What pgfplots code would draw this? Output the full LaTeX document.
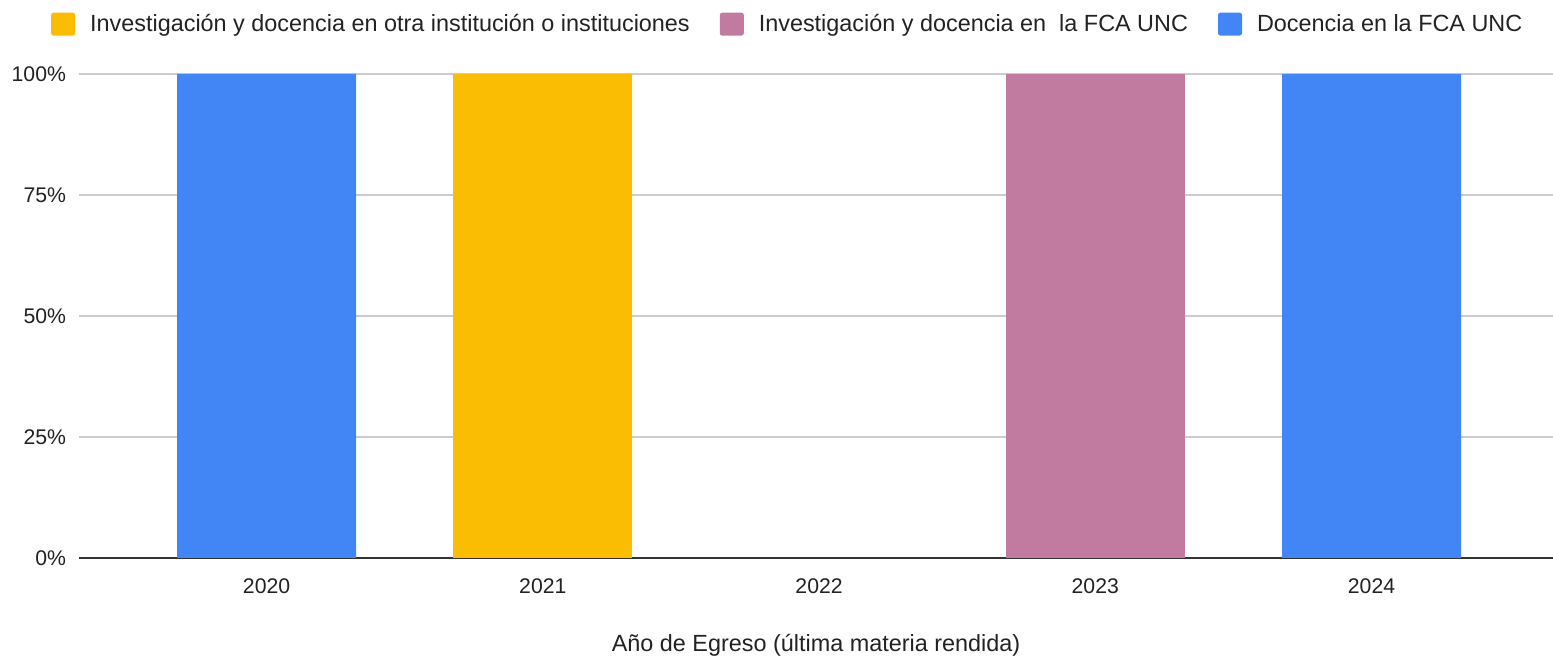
\documentclass[border=0pt]{standalone}
\usepackage{pgfplots}
\pgfplotsset{compat=1.18}
\usepackage{fontspec}
\setmainfont{Liberation Sans}
\definecolor{cyel}{HTML}{FBBC04}
\definecolor{cpink}{HTML}{C27BA0}
\definecolor{cblue}{HTML}{4285F4}
\definecolor{ctext}{HTML}{222222}
\definecolor{cgrid}{HTML}{CCCCCC}
\definecolor{caxis}{HTML}{333333}
\begin{document}
\begin{tikzpicture}
\begin{axis}[name=ax, scale only axis, width=737pt, height=242pt,
  ybar stacked, bar width=89.5pt,
  xmin=-0.679, xmax=4.657, ymin=0, ymax=100,
  xtick={0,1,2,3,4}, xticklabels={2020,2021,2022,2023,2024},
  ytick={0,25,50,75,100}, yticklabel={\pgfmathprintnumber{\tick}\%},
  /pgf/number format/assume math mode=true,
  ymajorgrids, grid style={color=cgrid, line width=0.75pt},
  axis x line*=bottom, axis y line*=left,
  x axis line style={color=caxis, line width=1pt, -},
  y axis line style={draw=none},
  major tick length=0pt,
  tick label style={font=\fontsize{10.6}{12}\selectfont, text=ctext},
  xticklabel style={anchor=base, yshift=-17.5pt},
  yticklabel style={anchor=east, xshift=-3pt},
  xlabel={Año de Egreso (última materia rendida)},
  xlabel style={at={(axis description cs:0.5,-0.18)}, anchor=center, font=\fontsize{11.7}{13}\selectfont, text=ctext},
  legend style={draw=none, fill=none, at={(0.4815,1.103)}, anchor=center,
    legend columns=3, font=\fontsize{11.7}{13}\selectfont, text=ctext,
    /tikz/every even column/.append style={column sep=13pt},
    /tikz/every odd column/.append style={column sep=5.5pt}},
  legend cell align=left,
  legend image code/.code={\fill[#1, draw=none, rounded corners=1.2pt] (0pt,-5.75pt) rectangle (12pt,5.75pt);},
]
\addplot[fill=cyel, draw=none] coordinates {(0,0) (1,100) (2,0) (3,0) (4,0)};
\addlegendentry{Investigación y docencia en otra institución o instituciones}
\addplot[fill=cpink, draw=none] coordinates {(0,0) (1,0) (2,0) (3,100) (4,0)};
\addlegendentry{Investigación y docencia en\ \ la FCA UNC}
\addplot[fill=cblue, draw=none] coordinates {(0,100) (1,0) (2,0) (3,0) (4,100)};
\addlegendentry{Docencia en la FCA UNC}
\end{axis}
\pgfresetboundingbox
\path ([xshift=-39.5pt,yshift=-50pt]ax.south west) rectangle ([yshift=37pt]ax.north east);
\end{tikzpicture}
\end{document}
